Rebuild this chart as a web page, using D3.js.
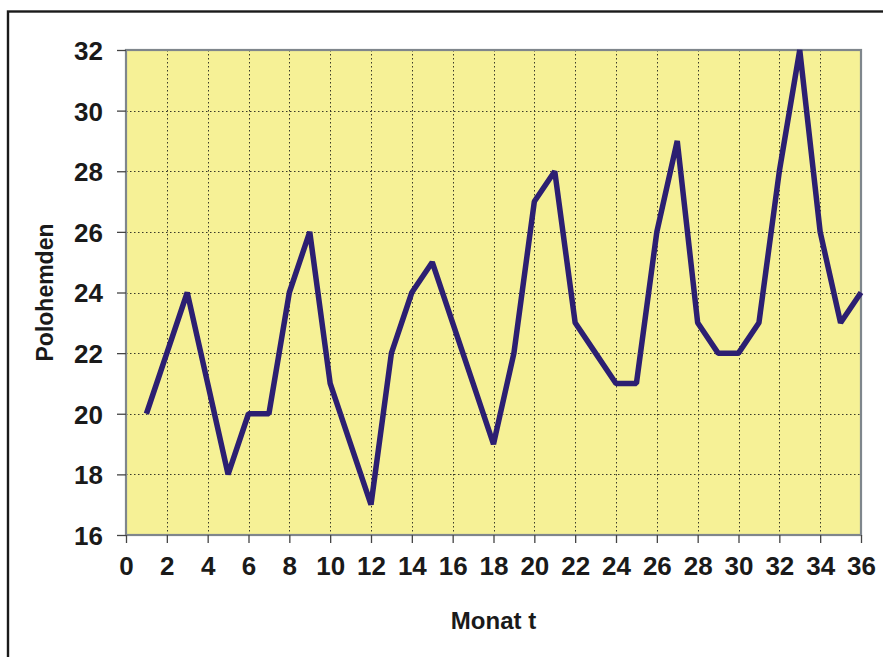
<!DOCTYPE html>
<html>
<head>
<meta charset="utf-8">
<script src="https://cdn.jsdelivr.net/npm/d3@7"></script>
<style>
  html, body { margin: 0; padding: 0; background: #ffffff; }
  svg { display: block; }
  text { font-family: "Liberation Sans", Arial, sans-serif; font-weight: bold; fill: #1a1a1a; }
</style>
</head>
<body>
<svg id="chart" width="883" height="657"></svg>
<script>
// ---- data ----
const months = [1,2,3,4,5,6,7,8,9,10,11,12,13,14,15,16,17,18,19,20,21,22,23,24,25,26,27,28,29,30,31,32,33,34,35,36];
const polohemden = [20,22,24,21,18,20,20,24,26,21,19,17,22,24,25,23,21,19,22,27,28,23,22,21,21,26,29,23,22,22,23,28,32,26,23,24];
const xTicks = [0,2,4,6,8,10,12,14,16,18,20,22,24,26,28,30,32,34,36];
const yTicks = [16,18,20,22,24,26,28,30,32];
const xTitle = "Monat t";
const yTitle = "Polohemden";

// ---- layout ----
const W = 883, H = 657;
const plot = { left: 126, top: 50, right: 861, bottom: 535 };

const svg = d3.select("#chart");

// outer frame
svg.append("rect")
  .attr("x", 8).attr("y", 11.5)
  .attr("width", W + 20).attr("height", H + 20)
  .attr("fill", "none").attr("stroke", "#1a1a1a").attr("stroke-width", 2.4);

const x = d3.scaleLinear().domain([0, 36]).range([plot.left, plot.right]);
const y = d3.scaleLinear().domain([16, 32]).range([plot.bottom, plot.top]);

// plot background
svg.append("rect")
  .attr("x", plot.left).attr("y", plot.top)
  .attr("width", plot.right - plot.left).attr("height", plot.bottom - plot.top)
  .attr("fill", "#f6f196");

// grid
const grid = svg.append("g").attr("stroke", "#3a3a2a").attr("stroke-width", 1).attr("stroke-dasharray", "1.5,2.5");
grid.selectAll("line.v").data(xTicks.slice(1, -1)).join("line")
  .attr("x1", d => Math.round(x(d)) + 0.5).attr("x2", d => Math.round(x(d)) + 0.5)
  .attr("y1", plot.top).attr("y2", plot.bottom);
grid.selectAll("line.h").data(yTicks.slice(1, -1)).join("line")
  .attr("y1", d => Math.round(y(d)) + 0.5).attr("y2", d => Math.round(y(d)) + 0.5)
  .attr("x1", plot.left).attr("x2", plot.right);

// plot border
svg.append("rect")
  .attr("x", plot.left).attr("y", plot.top)
  .attr("width", plot.right - plot.left).attr("height", plot.bottom - plot.top)
  .attr("fill", "none").attr("stroke", "#7f868c").attr("stroke-width", 2.2);

// axes
const xAxis = d3.axisBottom(x).tickValues(xTicks).tickSize(8).tickPadding(13).tickFormat(d3.format("d"));
const gx = svg.append("g").attr("transform", `translate(0,${plot.bottom})`).call(xAxis);
gx.select(".domain").remove();
gx.selectAll(".tick line").attr("stroke", "#444").attr("stroke-width", 1.3);
gx.selectAll(".tick text").attr("font-size", 26).attr("dy", "0.72em")
  .style("font-family", '"Liberation Sans", Arial, sans-serif').style("font-weight", "bold").attr("fill", "#1a1a1a");

const yAxis = d3.axisLeft(y).tickValues(yTicks).tickSize(9).tickPadding(14).tickFormat(d3.format("d"));
const gy = svg.append("g").attr("transform", `translate(${plot.left},0)`).call(yAxis);
gy.select(".domain").remove();
gy.selectAll(".tick line").attr("stroke", "#444").attr("stroke-width", 1.3);
gy.selectAll(".tick text").attr("font-size", 26).attr("dy", "0.36em")
  .style("font-family", '"Liberation Sans", Arial, sans-serif').style("font-weight", "bold").attr("fill", "#1a1a1a");

// line
const line = d3.line().x((d, i) => x(months[i])).y(d => y(d));
svg.append("path")
  .datum(polohemden)
  .attr("d", line)
  .attr("fill", "none")
  .attr("stroke", "#2c1f72")
  .attr("stroke-width", 5.5)
  .attr("stroke-linejoin", "bevel")
  .attr("stroke-linecap", "butt");

// titles
svg.append("text")
  .attr("x", (plot.left + plot.right) / 2).attr("y", 629)
  .attr("text-anchor", "middle").attr("font-size", 24)
  .text(xTitle);

svg.append("text")
  .attr("transform", `translate(53,${(plot.top + plot.bottom) / 2}) rotate(-90)`)
  .attr("text-anchor", "middle").attr("font-size", 23)
  .text(yTitle);
</script>
</body>
</html>
